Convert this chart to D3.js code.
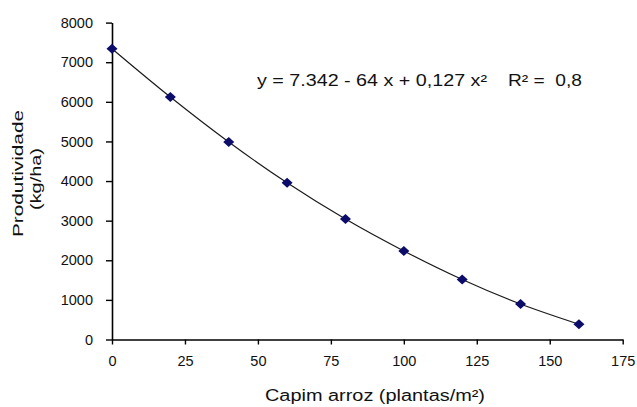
<!DOCTYPE html>
<html>
<head>
<meta charset="utf-8">
<script src="https://cdn.jsdelivr.net/npm/d3@7"></script>
<style>
  html, body { margin: 0; padding: 0; background: #ffffff; }
  svg { display: block; font-family: "Liberation Sans", Arial, sans-serif; }
</style>
</head>
<body>
<svg id="chart" width="637" height="407"></svg>
<script>
// Data
const plantas = [0, 20, 40, 60, 80, 100, 120, 140, 160];
const produtividade = [7340, 6120, 4985, 3955, 3040, 2235, 1515, 895, 385];
const xTicks = [0, 25, 50, 75, 100, 125, 150, 175];
const yTicks = [0, 1000, 2000, 3000, 4000, 5000, 6000, 7000, 8000];
const equationText = "y = 7.342 - 64 x + 0,127 x\u00B2";
const r2Text = "R\u00B2 =  0,8";
const xTitle = "Capim arroz (plantas/m\u00B2)";
const yTitleLines = ["Produtividade", "(kg/ha)"];

const svg = d3.select("#chart");

const x = d3.scaleLinear().domain([0, 175]).range([112, 622.7]);
const y = d3.scaleLinear().domain([0, 8000]).range([339.5, 22.6]);

// X axis
const xAxis = d3.axisBottom(x).tickValues(xTicks).tickSize(5).tickSizeOuter(0).tickPadding(16).tickFormat(d3.format("d"));
const gx = svg.append("g").attr("transform", `translate(0,${y(0)})`).call(xAxis);
gx.select(".domain").attr("stroke", "#000").attr("stroke-width", 1.6);
gx.selectAll(".tick line").attr("stroke", "#000").attr("stroke-width", 1.4);
gx.selectAll(".tick text").attr("font-size", 14.5).attr("fill", "#111").attr("dy", "0.35em");

// Y axis
const yAxis = d3.axisLeft(y).tickValues(yTicks).tickSize(6).tickSizeOuter(0).tickPadding(13).tickFormat(d3.format("d"));
const gy = svg.append("g").attr("transform", `translate(${x(0)},0)`).call(yAxis);
gy.select(".domain").attr("stroke", "#000").attr("stroke-width", 1.6);
gy.selectAll(".tick line").attr("stroke", "#000").attr("stroke-width", 1.4);
gy.selectAll(".tick text").attr("font-size", 14.5).attr("fill", "#111");

// Trend curve through the points
const pts = plantas.map((p, i) => [p, produtividade[i]]);
const line = d3.line().x(d => x(d[0])).y(d => y(d[1])).curve(d3.curveMonotoneX);
svg.append("path")
  .datum(pts)
  .attr("d", line)
  .attr("fill", "none")
  .attr("stroke", "#1a1a1a")
  .attr("stroke-width", 1.2);

// Diamond markers
const diamond = "M0,-5 L5.5,0 L0,5 L-5.5,0 Z";
svg.append("g").selectAll("path")
  .data(pts)
  .join("path")
  .attr("transform", d => `translate(${x(d[0])},${y(d[1])})`)
  .attr("d", diamond)
  .attr("fill", "#0c0c6b");

// Equation
svg.append("text")
  .attr("x", 257).attr("y", 86)
  .attr("font-size", 16)
  .attr("fill", "#111")
  .attr("textLength", 230)
  .attr("lengthAdjust", "spacingAndGlyphs")
  .text(equationText);
svg.append("text")
  .attr("x", 508).attr("y", 86)
  .attr("font-size", 16)
  .attr("fill", "#111")
  .attr("textLength", 74)
  .attr("lengthAdjust", "spacingAndGlyphs")
  .style("white-space", "pre")
  .text(r2Text);

// X title
svg.append("text")
  .attr("x", 265).attr("y", 401)
  .attr("font-size", 16)
  .attr("fill", "#111")
  .attr("textLength", 220)
  .attr("lengthAdjust", "spacingAndGlyphs")
  .text(xTitle);

// Y title (two lines, rotated)
svg.append("text")
  .attr("transform", "translate(23,237) rotate(-90)")
  .attr("font-size", 15)
  .attr("fill", "#111")
  .attr("textLength", 127)
  .attr("lengthAdjust", "spacingAndGlyphs")
  .text(yTitleLines[0]);
svg.append("text")
  .attr("transform", "translate(41,210) rotate(-90)")
  .attr("font-size", 15)
  .attr("fill", "#111")
  .attr("textLength", 62)
  .attr("lengthAdjust", "spacingAndGlyphs")
  .text(yTitleLines[1]);
</script>
</body>
</html>
